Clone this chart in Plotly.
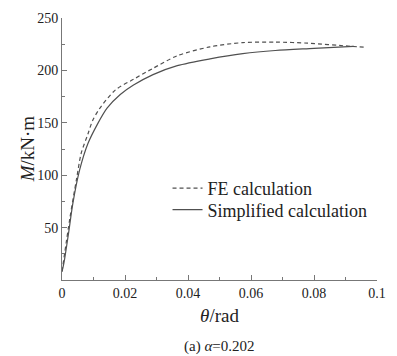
import plotly.graph_objects as go

fe_theta = [0, 0.0025, 0.0046, 0.0061, 0.0082, 0.0097, 0.0118, 0.017, 0.0227, 0.0289,
            0.0366, 0.047, 0.0574, 0.0677, 0.078, 0.0916, 0.0966]
fe_M = [8, 59, 96, 121, 139, 152, 163, 181.5, 191.5, 202, 214, 222.5, 226.5, 227, 226, 223, 222]

simp_theta = [0, 0.0006, 0.002, 0.0035, 0.0056, 0.0082, 0.0113, 0.0143, 0.0185, 0.0227, 0.0289,
              0.0366, 0.047, 0.0574, 0.0677, 0.080, 0.0925]
simp_M = [8, 16, 43, 74, 105, 130, 149, 164, 177, 186, 196, 204.5, 211, 216, 219, 221, 223]

x_ticks = [0, 0.02, 0.04, 0.06, 0.08, 0.1]
x_ticklabels = ["0", "0.02", "0.04", "0.06", "0.08", "0.1"]
y_ticks = [50, 100, 150, 200, 250]

FONT = "'Liberation Serif', 'DejaVu Serif', 'Times New Roman', serif"
LINE = "#505050"
AX = "#777777"
TXT = "#222222"

fig = go.Figure()
fig.add_trace(go.Scatter(x=fe_theta, y=fe_M, mode="lines", name="FE calculation", legend="legend",
                         line=dict(color=LINE, width=1.2, dash="4px,3px", shape="spline", smoothing=0.8)))
fig.add_trace(go.Scatter(x=simp_theta, y=simp_M, mode="lines", name="Simplified calculation",
                         legend="legend2",
                         line=dict(color=LINE, width=1.2, shape="spline", smoothing=0.8)))

leg_common = dict(xanchor="left", yanchor="top", bgcolor="rgba(0,0,0,0)", borderwidth=0,
                  font=dict(family=FONT, size=18, color=TXT), itemwidth=30)

fig.update_layout(
    width=397, height=356,
    margin=dict(l=62, r=13, t=11, b=76),
    paper_bgcolor="white", plot_bgcolor="white",
    font=dict(family=FONT, color=TXT, size=14),
    showlegend=True,
    legend=dict(x=0.335, y=0.42, **leg_common),
    legend2=dict(x=0.335, y=0.42 - 22 / 269, **leg_common),
    xaxis=dict(range=[0, 0.1], tickvals=x_ticks, ticktext=x_ticklabels,
               showgrid=False, zeroline=False, showline=True, linecolor=AX, linewidth=1,
               ticks="inside", ticklen=5, tickcolor=AX,
               minor=dict(ticks="inside", ticklen=3, tickcolor=AX, dtick=0.01, showgrid=False),
               tickfont=dict(family=FONT, size=14, color=TXT),
               title=dict(text="<i>θ</i>/rad", font=dict(family=FONT, size=19, color=TXT),
                          standoff=8)),
    yaxis=dict(range=[0, 250], tickvals=y_ticks,
               showgrid=False, zeroline=False, showline=True, linecolor=AX, linewidth=1,
               ticks="inside", ticklen=5, tickcolor=AX,
               minor=dict(ticks="inside", ticklen=3, tickcolor=AX, dtick=25, showgrid=False),
               tickfont=dict(family=FONT, size=14, color=TXT)),
)

fig.add_annotation(text="<i>M</i>/kN·m", xref="paper", yref="paper",
                   x=-0.11, y=0.5, xanchor="center", yanchor="middle", textangle=-90,
                   showarrow=False, font=dict(family=FONT, size=19, color=TXT))

fig.add_annotation(text="(a) <i>α</i>=0.202", xref="paper", yref="paper",
                   x=0.5, y=-0.215, xanchor="center", yanchor="top", showarrow=False,
                   font=dict(family=FONT, size=15, color=TXT))

fig.write_html("out.html")
